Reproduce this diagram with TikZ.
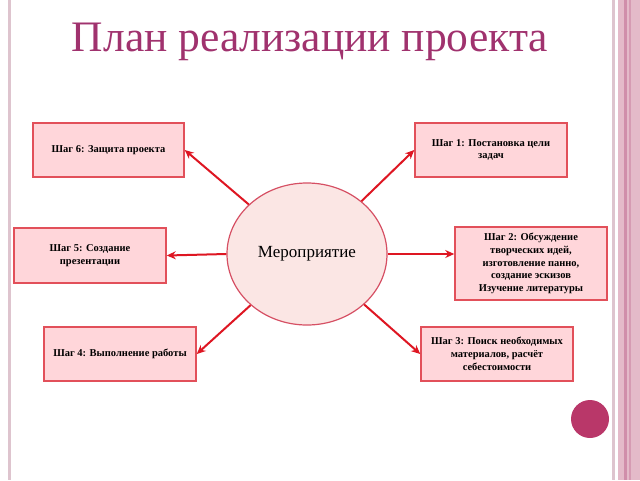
\documentclass[tikz,border=0pt]{standalone}
\usepackage{fontspec}
\setmainfont{Liberation Serif}
\usetikzlibrary{shapes.geometric,arrows.meta}
\definecolor{titlec}{RGB}{160,50,110}
\definecolor{boxfill}{RGB}{255,214,218}
\definecolor{boxline}{RGB}{226,80,90}
\definecolor{arrc}{RGB}{222,22,34}
\definecolor{ellfill}{RGB}{251,230,228}
\definecolor{ellline}{RGB}{214,80,100}
\definecolor{dotc}{RGB}{185,55,105}
\definecolor{bandc}{RGB}{228,186,201}
\definecolor{banddark}{RGB}{208,142,170}
\definecolor{edgec}{RGB}{222,196,206}
\tikzset{
  stepbox/.style={draw=boxline, fill=boxfill, line width=1.5pt, inner sep=0pt,
    align=center, font=\fontsize{10.5}{12.8}\selectfont\bfseries},
  arr/.style={draw=arrc, line width=2pt, -{Stealth[length=9pt,width=8pt]}},
}
\begin{document}
\begin{tikzpicture}[x=1pt,y=-1pt]
\useasboundingbox (0,0) rectangle (640,480);
% borders
\fill[edgec] (8,0) rectangle (11,480);
\fill[edgec] (612,0) rectangle (614.5,480);
\fill[bandc] (618,0) rectangle (640,480);
\fill[banddark] (623.5,0) rectangle (627,480);
\fill[banddark!70!bandc] (629,0) rectangle (630.5,480);
% title
\node[text=titlec, font=\fontsize{43.5}{48}\selectfont] (title) at (310,41.5) {План реализации проекта};
% center
\node[ellipse, draw=ellline, fill=ellfill, line width=1.2pt, minimum width=160pt, minimum height=142pt,
  inner sep=0pt, font=\fontsize{17}{20}\selectfont] (e) at (307,254) {Мероприятие};
% boxes
\node[stepbox, minimum width=151pt, minimum height=54pt] (b6) at (108.5,150) {Шаг 6: Защита проекта};
\node[stepbox, minimum width=152pt, minimum height=54pt] (b1) at (491,150) {Шаг 1: Постановка цели\\задач};
\node[stepbox, minimum width=152pt, minimum height=55pt] (b5) at (90,255.5) {Шаг 5: Создание\\презентации};
\node[stepbox, minimum width=152pt, minimum height=73pt, inner sep=2pt] (b2) at (531,263.5) {Шаг 2: Обсуждение\\творческих идей,\\изготовление панно,\\создание эскизов\\Изучение литературы};
\node[stepbox, minimum width=152pt, minimum height=54pt] (b4) at (120,354) {Шаг 4: Выполнение работы};
\node[stepbox, minimum width=152pt, minimum height=54pt] (b3) at (497,354) {Шаг 3: Поиск необходимых\\материалов, расчёт\\себестоимости};
% arrows
\draw[arr] (e) -- (b6.east);
\draw[arr] (e) -- (b1.west);
\draw[arr] (e.west) -- (b5.east);
\draw[arr] (e.east) -- (b2.west |- e.east);
\draw[arr] (e) -- (b4.east);
\draw[arr] (e) -- (b3.west);
% dot
\fill[dotc] (590,419) circle (19pt);
\end{tikzpicture}
\end{document}
